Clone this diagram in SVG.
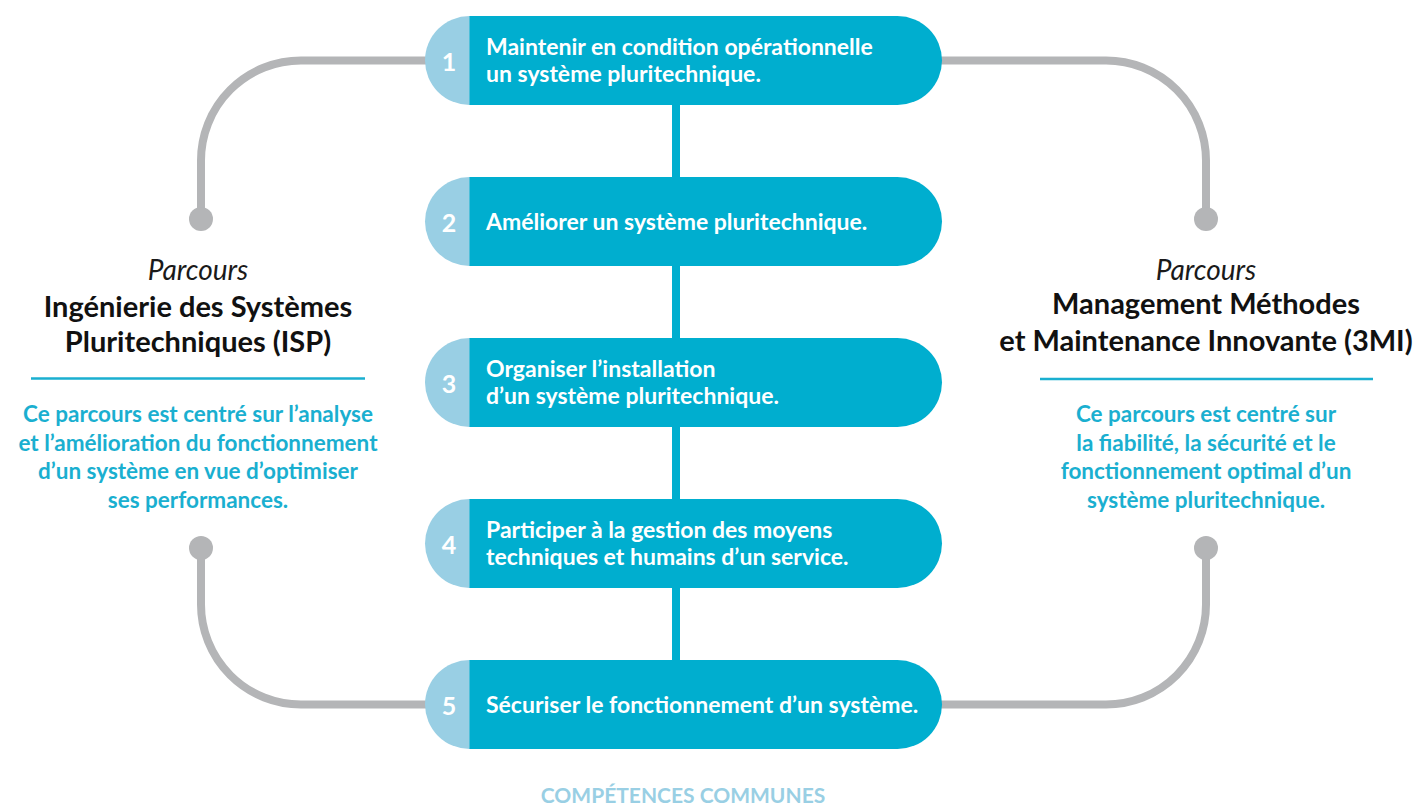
<svg xmlns="http://www.w3.org/2000/svg" width="1413" height="805" viewBox="0 0 1413 805">
<style>
.gray{fill:none;stroke:#B4B5B7;stroke-width:8}
.dot{fill:#B4B5B7}
.dark{fill:#00AECF}
.light{fill:#99CFE4}
.num{font-family:Lato,"Noto Sans",sans-serif;font-weight:700;font-size:25px;fill:#fff;text-anchor:middle}
.ptxt{font-family:Lato,"Noto Sans",sans-serif;font-weight:700;font-size:23px;fill:#fff}
.it{font-family:Lato,"Noto Sans",sans-serif;font-style:italic;font-size:28px;fill:#1a1a1a;text-anchor:middle}
.hd{font-family:Lato,"Noto Sans",sans-serif;font-weight:700;font-size:29px;fill:#111;text-anchor:middle}
.body{font-family:Lato,"Noto Sans",sans-serif;font-weight:700;font-size:22.5px;fill:#1AAFD0;text-anchor:middle}
.rule{stroke:#1AAFD0;stroke-width:2.5}
.foot{font-family:Lato,"Noto Sans",sans-serif;font-weight:700;font-size:21px;fill:#99CFE4;text-anchor:middle}
</style>
<g id="connectors">
<line x1="676" y1="100" x2="676" y2="665" stroke="#00AECF" stroke-width="8"/>
<path class="gray" d="M430 60.5 H301 A100 100 0 0 0 201 160.5 V219"/>
<path class="gray" d="M201 548 V604.5 A100 100 0 0 0 301 704.5 H430"/>
<path class="gray" d="M937 60.5 H1106 A100 100 0 0 1 1206 160.5 V219"/>
<path class="gray" d="M1206 548 V604.5 A100 100 0 0 1 1106 704.5 H937"/>
<circle class="dot" cx="201" cy="219" r="12"/>
<circle class="dot" cx="201" cy="548" r="12"/>
<circle class="dot" cx="1206" cy="219" r="12"/>
<circle class="dot" cx="1206" cy="548" r="12"/>
</g>
<defs>
<path id="pd" d="M469 0 H897.5 A44.5 44.5 0 0 1 897.5 89 H469 Z"/>
<path id="pl" d="M469.5 0 A44.5 44.5 0 0 0 469.5 89 Z"/>
</defs>
<g id="node1" transform="translate(0,16)">
<use href="#pd" class="dark"/><use href="#pl" class="light"/>
<text class="num" x="449" y="55">1</text>
<text class="ptxt" x="486" y="39">Maintenir en condition opérationnelle</text>
<text class="ptxt" x="486" y="66">un système pluritechnique.</text>
</g>
<g id="node2" transform="translate(0,177)">
<use href="#pd" class="dark"/><use href="#pl" class="light"/>
<text class="num" x="449" y="55">2</text>
<text class="ptxt" x="486" y="53">Améliorer un système pluritechnique.</text>
</g>
<g id="node3" transform="translate(0,338)">
<use href="#pd" class="dark"/><use href="#pl" class="light"/>
<text class="num" x="449" y="55">3</text>
<text class="ptxt" x="486" y="39">Organiser l’installation</text>
<text class="ptxt" x="486" y="66">d’un système pluritechnique.</text>
</g>
<g id="node4" transform="translate(0,499)">
<use href="#pd" class="dark"/><use href="#pl" class="light"/>
<text class="num" x="449" y="55">4</text>
<text class="ptxt" x="486" y="39">Participer à la gestion des moyens</text>
<text class="ptxt" x="486" y="66">techniques et humains d’un service.</text>
</g>
<g id="node5" transform="translate(0,660)">
<use href="#pd" class="dark"/><use href="#pl" class="light"/>
<text class="num" x="449" y="55">5</text>
<text class="ptxt" x="486" y="53">Sécuriser le fonctionnement d’un système.</text>
</g>
<g id="isp">
<text class="it" x="198" y="280">Parcours</text>
<text class="hd" x="198" y="317">Ingénierie des Systèmes</text>
<text class="hd" x="198" y="352">Pluritechniques (ISP)</text>
<line class="rule" x1="31" y1="378.5" x2="365" y2="378.5"/>
<text class="body" x="198" y="422">Ce parcours est centré sur l’analyse</text>
<text class="body" x="198" y="450.5">et l’amélioration du fonctionnement</text>
<text class="body" x="198" y="479">d’un système en vue d’optimiser</text>
<text class="body" x="198" y="507.5">ses performances.</text>
</g>
<g id="mmi">
<text class="it" x="1206" y="280">Parcours</text>
<text class="hd" x="1206" y="314">Management Méthodes</text>
<text class="hd" x="1206" y="351">et Maintenance Innovante (3MI)</text>
<line class="rule" x1="1040" y1="379" x2="1373" y2="379"/>
<text class="body" x="1206" y="422">Ce parcours est centré sur</text>
<text class="body" x="1206" y="450.5">la fiabilité, la sécurité et le</text>
<text class="body" x="1206" y="479">fonctionnement optimal d’un</text>
<text class="body" x="1206" y="507.5">système pluritechnique.</text>
</g>
<g id="footer">
<text class="foot" x="683" y="803">COMPÉTENCES COMMUNES</text>
</g>
</svg>
